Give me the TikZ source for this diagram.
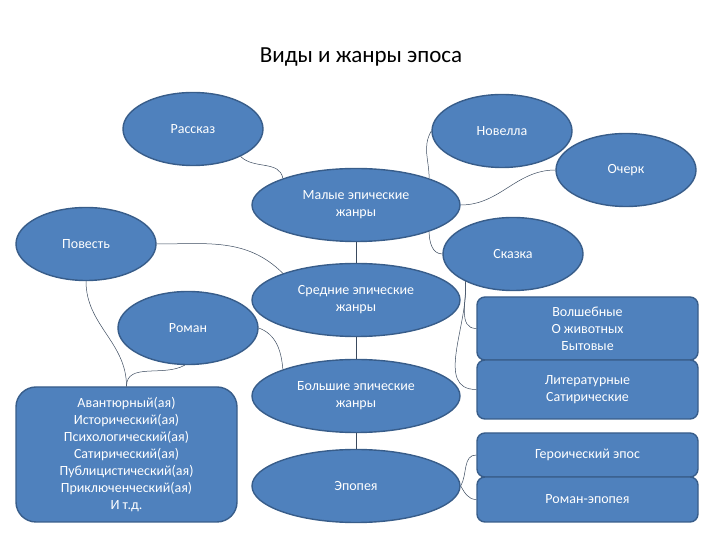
\documentclass[tikz,border=0pt]{standalone}
\usepackage{fontspec}
\setmainfont{Carlito}
\usetikzlibrary{shapes.geometric}

\definecolor{genreblue}{HTML}{4F81BD}
\definecolor{genreedge}{HTML}{385D8A}
\definecolor{linkgray}{HTML}{3A4A5E}
\newcommand{\genrefont}{\fontsize{14}{17}\selectfont}

\tikzset{
  genre/.style={ellipse, draw=genreedge, fill=genreblue, line width=1.4pt,
    text=white, inner sep=0pt, minimum width=140pt, minimum height=73pt,
    align=center, font=\genrefont},
  widegenre/.style={genre, minimum width=208pt},
  kindbox/.style={rectangle, rounded corners=8pt, draw=genreedge, fill=genreblue,
    line width=1.4pt, text=white, inner sep=0pt, minimum width=221pt,
    align=center, font=\genrefont},
  link/.style={draw=linkgray, line width=0.5pt}
}

\begin{document}
\begin{tikzpicture}[x=1pt, y=1pt]
  \useasboundingbox (0,0) rectangle (720,540);
  \node[font=\fontsize{23}{27}\selectfont] (title) at (361,483) {Виды и жанры эпоса};

  % ellipses
  \node[genre] (rasskaz) at (193,411) {Рассказ};
  \node[genre] (novella) at (502,409) {Новелла};
  \node[genre] (ocherk) at (626,370) {Очерк};
  \node[widegenre] (malye) at (356,335) {Малые эпические\\жанры};
  \node[genre] (povest) at (86,296) {Повесть};
  \node[genre] (skazka) at (513,286) {Сказка};
  \node[widegenre] (srednie) at (356,240) {Средние эпические\\жанры};
  \node[genre] (roman) at (188,212) {Роман};
  \node[widegenre] (bolshie) at (356,144) {Большие эпические\\жанры};
  \node[widegenre] (epopeya) at (356,54) {Эпопея};

  % boxes
  \node[kindbox, minimum height=63pt] (volsh) at (587.5,211.5) {Волшебные\\О животных\\Бытовые};
  \node[kindbox, minimum height=59pt] (liter) at (587.5,150.5) {Литературные\\Сатирические};
  \node[kindbox, minimum height=44pt] (geroich) at (587.5,85) {Героический эпос};
  \node[kindbox, minimum height=45pt] (romep) at (587.5,40.5) {Роман-эпопея};
  \node[kindbox, rounded corners=20pt, minimum height=135pt] (avant) at (126.5,85.5)
    {Авантюрный(ая)\\Исторический(ая)\\Психологический(ая)\\Сатирический(ая)\\Публицистический(ая)\\Приключенческий(ая)\\И т.д.};

  % connectors
  \draw[link] (rasskaz.-30) to[out=-45, in=100] (malye.160);
  \draw[link] (novella.180) to[out=-120, in=90] (malye.20);
  \draw[link] (ocherk.180) to[out=180, in=0] (malye.0);
  \draw[link] (malye.-20) to[out=-90, in=180] (skazka.180);
  \draw[link] (povest.0) to[out=0, in=135] (srednie.160);
  \draw[link] (malye.south) -- (srednie.north);
  \draw[link] (srednie.south) -- (bolshie.north);
  \draw[link] (bolshie.south) -- (epopeya.north);
  \draw[link] (roman.0) to[out=-20, in=95] (bolshie.160);
  \draw[link] (povest.270) to[out=-90, in=90] (avant.north);
  \draw[link] (roman.265) to[out=-150, in=90] (avant.north);
  \draw[link] (skazka.210) to[out=-85, in=180] (volsh.west);
  \draw[link] (skazka.210) to[out=-85, in=180] (liter.west);
  \draw[link] (epopeya.0) to[out=60, in=180] (geroich.west);
  \draw[link] (epopeya.0) to[out=-60, in=180] (romep.west);
\end{tikzpicture}
\end{document}
